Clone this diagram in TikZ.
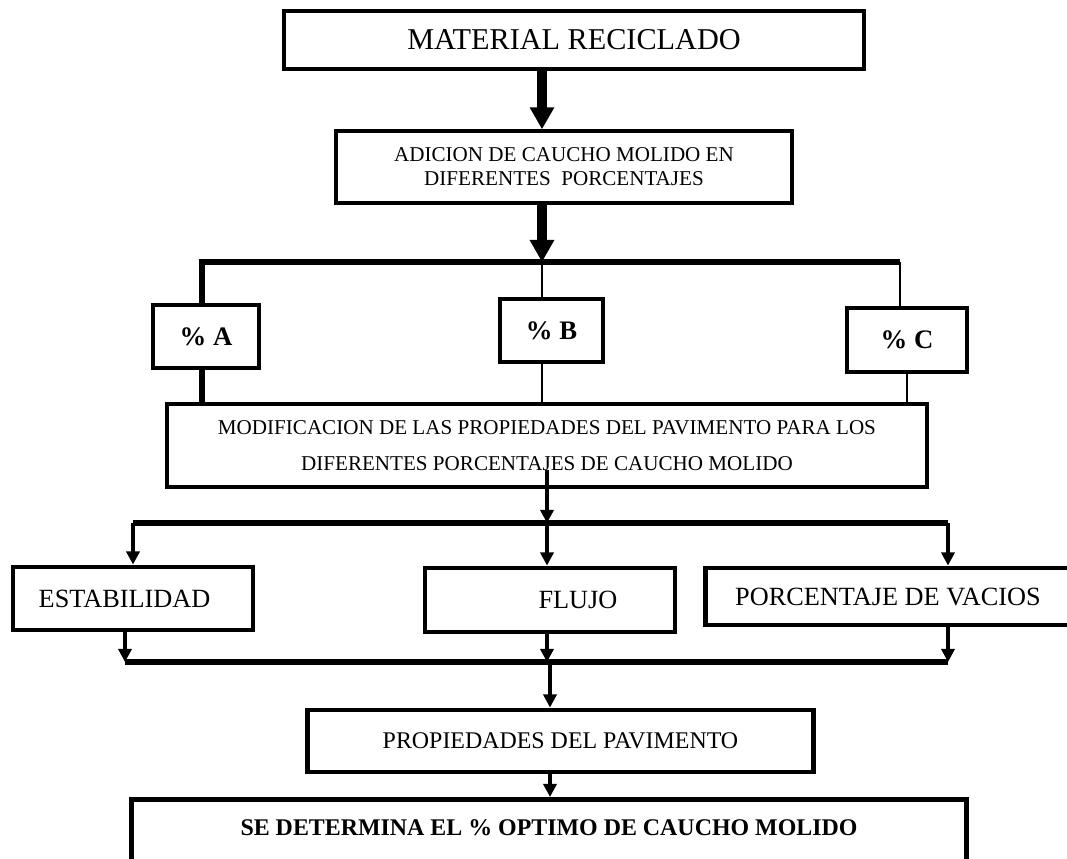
\documentclass[tikz,border=0pt]{standalone}
\usepackage{fontspec}
\setmainfont{Liberation Serif}
\usetikzlibrary{arrows.meta,positioning}
\newcommand{\fbig}{\fontsize{21.5}{25}\selectfont}
\newcommand{\fmid}{\fontsize{18.7}{22}\selectfont}
\newcommand{\fsmall}{\fontsize{15}{17.2}\selectfont}
\newcommand{\fprop}{\fontsize{17}{20}\selectfont}
\newcommand{\fpct}{\bfseries\fontsize{19}{22}\selectfont}
\tikzset{
  flow/.style={x=0.025cm, y=-0.025cm},
  % a box of the chart
  stepbox/.style={draw=black, line width=3.5pt, rectangle, inner sep=0pt, align=center},
  % the same, with a lighter frame
  lightbox/.style={stepbox, line width=2.4pt},
  % the heavy bars that split and join the flow
  bar/.style={draw=black, line width=3.6pt},
  % a plain joining line
  link/.style={draw=black, line width=2pt},
  % the two heavy arrows at the top
  bigarrow/.style={draw=black, line width=7pt,
                   -{Triangle[length=5.5mm,width=5.8mm]}},
  % an ordinary arrow
  flowarrow/.style={draw=black, line width=2.4pt,
                    -{Triangle[length=3.3mm,width=3.3mm]}},
}

\begin{document}
\begin{tikzpicture}[flow]
  \useasboundingbox (0,0) rectangle (1067,859);
  \clip (0,0) rectangle (1067,859);

  % boxes
  \node[lightbox, minimum width=14.5cm, minimum height=1.45cm, font=\fbig]
    (mat) at (574,40) {MATERIAL RECICLADO};
  \node[lightbox, minimum width=11.4cm, minimum height=1.8cm, font=\fsmall]
    (adi) at (564,167) {ADICION DE CAUCHO MOLIDO EN\\DIFERENTES\enspace PORCENTAJES};
  \node[stepbox, minimum width=2.65cm, minimum height=1.575cm, font=\fpct]
    (pa) at (206,336.5) {\% A};
  \node[stepbox, minimum width=2.575cm, minimum height=1.575cm, font=\fpct]
    (pb) at (551.5,330.5) {\% B};
  \node[stepbox, minimum width=3cm, minimum height=1.6cm, font=\fpct]
    (pc) at (907,340) {\% C};
  \node[lightbox, minimum width=19cm, minimum height=2.075cm,
        font=\fontsize{15}{26}\selectfont]
    (mod) at (547,445.5) {MODIFICACION DE LAS PROPIEDADES DEL PAVIMENTO PARA LOS\\
                          DIFERENTES PORCENTAJES DE CAUCHO MOLIDO};
  \node[stepbox, minimum width=6cm, minimum height=1.575cm, font=\fmid]
    (est) at (133,598.5) {ESTABILIDAD\hspace*{0.42cm}};
  \node[stepbox, minimum width=6.25cm, minimum height=1.6cm, font=\fmid]
    (flu) at (550,600) {\hspace*{1.4cm}FLUJO};
  \node[stepbox, minimum width=9.1cm, minimum height=1.425cm, font=\fmid]
    (por) at (888,596.5) {PORCENTAJE DE VACIOS};
  \node[stepbox, minimum width=12.625cm, minimum height=1.55cm, font=\fprop]
    (pro) at (560.5,741) {PROPIEDADES DEL PAVIMENTO};
  \node[stepbox, anchor=north, minimum width=20.85cm, text height=0.9cm,
        text depth=1.6cm, font=\bfseries\fprop]
    (fin) at (549,797) {SE DETERMINA EL \% OPTIMO DE CAUCHO MOLIDO};

  % junctions
  \coordinate (j1) at (542,262);
  \coordinate (b1l) at (202,262);
  \coordinate (b1r) at (900,262);
  \coordinate (m0) at (547,470);
  \coordinate (j2) at (547,523);
  \coordinate (b2l) at (133,523);
  \coordinate (b2r) at (948,523);
  \coordinate (j3) at (550,662);
  \coordinate (b3l) at (125,662);
  \coordinate (b3r) at (948,662);

  % top part
  \draw[bigarrow] (mat.south -| j1) -- (j1 |- adi.north);
  \draw[bigarrow] (adi.south -| j1) -- (j1);
  \draw[bar] (b1l |- pa.north) -- (b1l) -- (b1r);
  \draw[link] (j1) -- (j1 |- pb.north);
  \draw[link] (b1r) -- (b1r |- pc.north);
  \draw[bar] (pa.south -| b1l) -- (b1l |- mod.north);
  \draw[link] (pb.south -| j1) -- (j1 |- mod.north);
  \draw[link] (pc.south) -- (pc.south |- mod.north);

  % middle part
  \draw[flowarrow] (m0) -- (j2);
  \draw[bar] (b2l) -- (b2r);
  \draw[flowarrow] (b2l) -- (b2l |- est.north);
  \draw[flowarrow] (j2) -- (j2 |- flu.north);
  \draw[flowarrow] (b2r) -- (b2r |- por.north);

  % bottom part
  \draw[flowarrow] (est.south -| b3l) -- (b3l);
  \draw[flowarrow] (flu.south -| j2) -- (j2 |- j3);
  \draw[flowarrow] (por.south -| b3r) -- (b3r);
  \draw[bar] (b3l) -- (b3r);
  \draw[flowarrow] (j3) -- (j3 |- pro.north);
  \draw[flowarrow] (pro.south -| j3) -- (j3 |- fin.north);
\end{tikzpicture}
\end{document}
